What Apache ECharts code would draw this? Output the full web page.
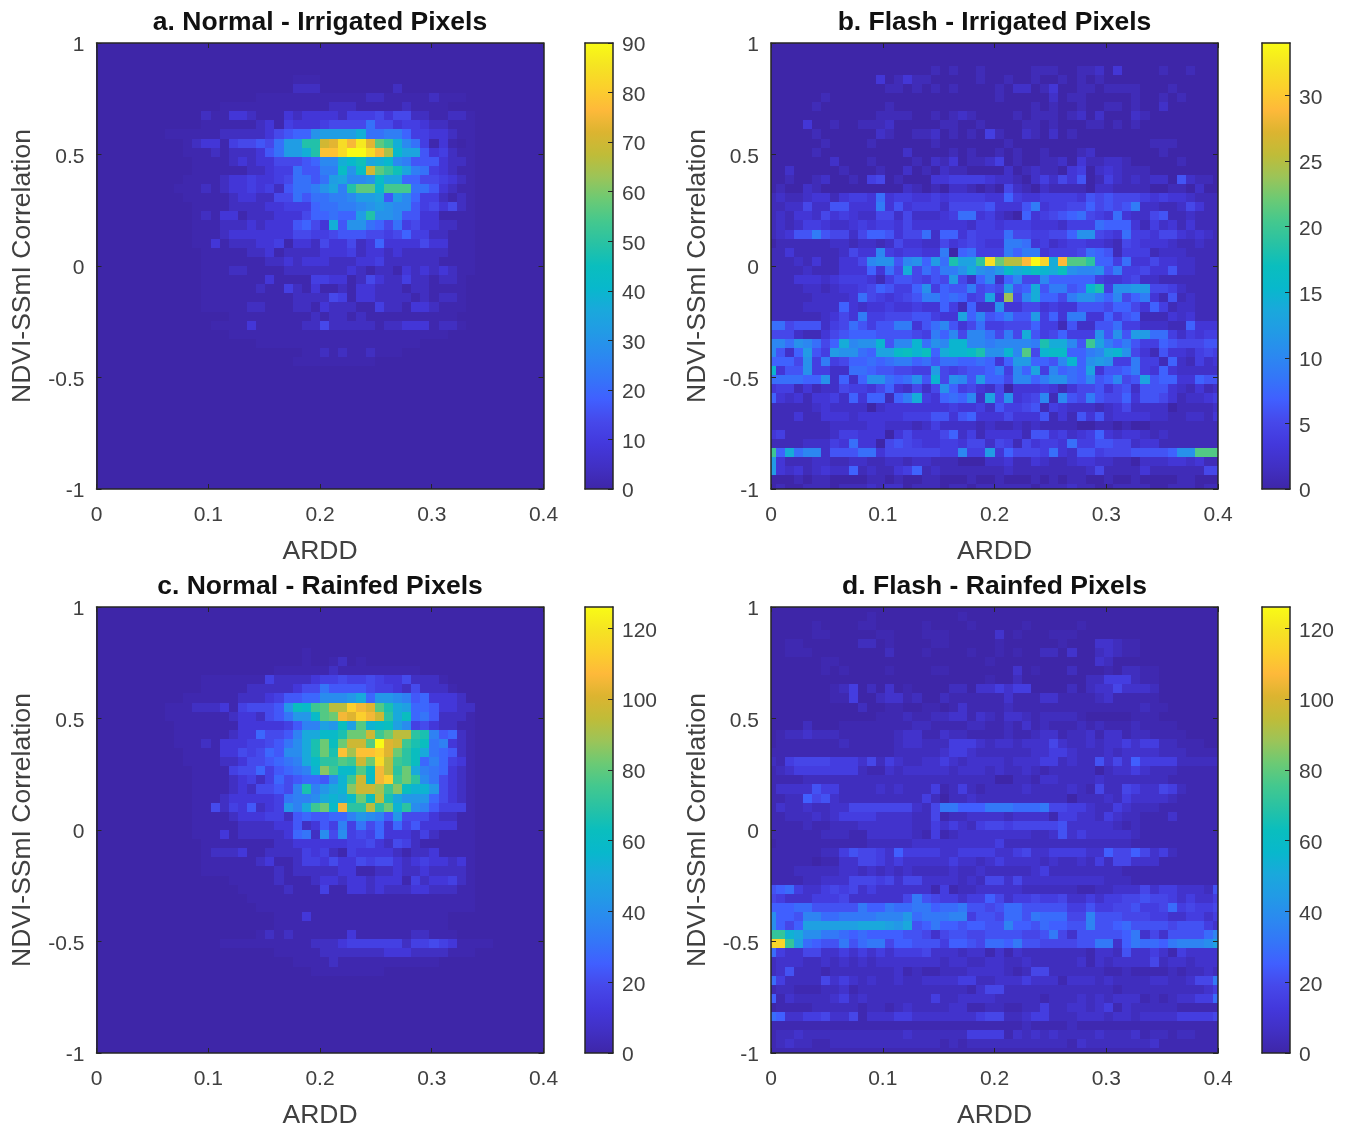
<!DOCTYPE html>
<html><head><meta charset="utf-8">
<script src="https://cdn.jsdelivr.net/npm/echarts@6/dist/echarts.min.js"></script>
<style>html,body{margin:0;padding:0;background:#fff}#c{width:1348px;height:1128px}</style>
</head><body><div id="c"></div>
<script>
const titles=["a. Normal - Irrigated Pixels","b. Flash - Irrigated Pixels","c. Normal - Rainfed Pixels","d. Flash - Rainfed Pixels"];
const xLabel="ARDD", yLabel="NDVI-SSmI Correlation";
const maxes=[90,34,126,126];
const barTicks=[10,5,20,20];
// each character is one cell, base-36 level; unit = counts per level, low* = counts of the faintest levels
const units=[2.7,1,3.9,3.6];
const lowA=[0,1,4], lowB=[0,1,2], lowC=[0,1.5,6], lowD=[0,2,5,8.5];
const rowsA=["","","","",
"0000000000000000000000111",
"0000000000000000000000222000000002",
"00000000000000000011111111111122111112111",
"000000000000001111111111112221111121111",
"000000000000211332111323333244453552211221",
"000000000000111111231433345555855344322111",
"000000001111112222235677bcccce889974433211",
"000000000012331455658cciiqrvswrljea8413101",
"00000000001112122236"+"8cceittvzzvsofdd6342"+"11",
"00000000000111123233"+"55567aaefhdefa96663221",
"00000000000111111223"+"4486699gbgqljhd9843211",
"00000000001111233433"+"458868cdaabgdd77554321",
"00000000011121233434"+"26889bd9illfkkk8863211",
"00000000001111123322"+"55868899accd6ca7442121",
"00000000000111122223"+"344478899abcbaa6453521",
"00000000000121331222"+"333577877cibba66331111",
"00000000000111222323"+"336753e6bb875845332211",
"00000000000111233333"+"3355445666554574422111",
"00000000000113122233"+"4133253352373333533111",
"00000000000011111223"+"1222233342332322222111",
"00000000000011111112"+"2323332223342222221111",
"00000000000011122111"+"1222222232122132323211",
"00000000000011111113"+"1111443312532242212210",
"00000000000011111121"+"1421311213322212211110",
"00000000000011111111"+"1122225413322221212210",
"00000000000011111221"+"1122132221142213321110",
"00000000000000011111"+"1111212212111111111100",
"00000000000001111311"+"1112252222212233312210",
"00000000000000011111"+"11111111111111111110",
"00000000000000000011111111111111111100",
"000000000000000000000001121211211100",
"0000000000000000000000111111111",
"","","","","","","","","","","","","",""];
const rowsB=["","","",
"000000000000000000101001000001110011203000010010",
"0000000000003013110000010010010010101",
"0000000000000110101010000102201300110111100010",
"0000001000000000000000000100000201100000100101",
"00000100000001000000000000000101001001101002",
"000000000000111100101210000101110120200021",
"00003001001112000001100100001101000110101",
"0000010000002100112010104100210201",
"000000100001000000100000001000000000000000111",
"00000100000000020000101001010010001200000001",
"0000000200010000102130112401001120311221000001",
"002000001000100201021100002012110340232111",
"00100120010450100033444432210242536014212122062110",
"010021000000000210102210105210211110221111001102",
"1211233134"+"4383443343"+"4444337433"+"4444365655"+"5434332111",
"1122522663"+"3393634442"+"5555633369"+"3445575656"+"9221125311",
"1213325343"+"2255252223"+"4883421073"+"4567854383"+"2256112111",
"1212443223"+"4344353333"+"3324434443"+"3324448777"+"3142313111",
"1236696552"+"5776355827"+"7354448554"+"4557bb5438"+"4435532321",
"0111111221"+"2212533225"+"3454339983"+"4234433215"+"4333211211",
"1131111125"+"33a4344339"+"0784449799"+"3444587614"+"4412221111",
"1112131133"+"5abb6ab7c8"+"iddjwmppty"+"vetllj7748"+"3353322111",
"1111211133"+"37385e5869"+"9bebacgefh"+"fehbaab694"+"4533622111",
"1113332344"+"4314665465"+"c527a27a55"+"a777774334"+"5221111111",
"1111221233"+"4576447b47"+"669565c67e"+"69967fi4bb"+"cc55421111",
"1111122223"+"8543456997"+"8745d3o5ae"+"7759bb97a5"+"7931612111",
"1111222273"+"2334334337"+"41722b3355"+"3433666577"+"5374122111",
"1111112353"+"9445556643"+"3d7a67966c"+"4739933746"+"7111323111",
"8856662458"+"646699368a"+"6358445557"+"4416226684"+"4222117333",
"5552113567"+"7766665497"+"a5aa8595e6"+"457444b6b6"+"cc88424344",
"aa8ba857ea"+"bbf6aaf8ba"+"ffaa9aaaa9"+"ieea6kd979"+"6447655566",
"a627c64cbb"+"87ddghfh7e"+"ffgibbfal5"+"fgg779aefb"+"5316332454",
"7775b49457"+"7878997868"+"8778737cc7"+"76af7bcb44"+"9441721423",
"f366b44228"+"87665544c5"+"4566794a7d"+"4a787d3667"+"9437322222",
"888877b272"+"7bb878b6f5"+"ba6c775aa7"+"9bb87a67a5"+"6d67733766",
"3441312254"+"435732525b"+"7453250333"+"4313556356"+"2666321312",
"7323133427"+"377179e437"+"87a2d5b345"+"a1a6596557"+"3665312234",
"1111123222"+"2023333333"+"4334264456"+"1432221235"+"2222011112",
"1113113332"+"3333344466"+"3673335333"+"6131636233"+"3322112213",
"1111111222"+"2332221242"+"2221211212"+"1111001101"+"0011111111",
"3411111244"+"3330353335"+"7241333316"+"6342347323"+"3212111111",
"1111222438"+"3305654334"+"4355254153"+"4438446655"+"2331111111",
"k7e8aa2666"+"8835555554"+"4a44c37555"+"4832664555"+"66667bblll",
"c311122112"+"2112212211"+"1000223113"+"2112332211"+"0222332311",
"c323123227"+"1211347121"+"1111112111"+"1111125111"+"1311111155",
"0001011000"+"0110100110"+"0010010001"+"0101100100"+"1000011000",
"0100111011"+"1212201110"+"1101111110"+"1112110011"+"1100111011"];
const rowsC=["","","","","",
"000000000000000000000001",
"000000000000000000000001001201",
"000000000000000000001111112111111111",
"0000000000001111111"+"42222344544"+"543352221",
"00000000000011111"+"22222355866665443252221",
"0000000000111111"+"222346677aaabd7bba9673332",
"00000000111222314555"+"6bgfjkootrqkhdc7763322",
"00000000111111123325"+"68bbfklrqtrpidg7862221",
"00000000011111113333"+"34699cbgckefgca4532211",
"00000000011111123375"+"569ddffhllpjlooih96721",
"00000000011121333445"+"68adhlglppkzqpjhg89321",
"00000000001111335457"+"6aadhlhsnsstqligd87621",
"00000000001111223556"+"789dfiikjpluojig797431",
"00000000000111145574"+"6789emjffkgroild987321",
"00000000000111123424"+"756776aejpfrtjlia85321",
"00000000000111123255"+"659h9bdemppnjmgeeb5321",
"00000000000111233333"+"4899adedflgohdbbb75321",
"00000000000115243623"+"4b9djlfriioileia964441",
"00000000000111123334"+"426766779ba96b55532211",
"00000000000111112222"+"3362364948573746333311",
"00000000000111312222"+"23782a5a45473332421111",
"00000000000011111111"+"2233333344532542111111",
"00000000000012223112"+"2224342143333212231111",
"00000000000011111123"+"1124435335455323433231",
"00000000000011111111"+"2122222331122322322221",
"00000000000000011111"+"2111233233233314233421",
"00000000000000001111"+"1211141133232223322211",
"00000000000000000111"+"1111111111111111111111",
"000000000000000000111111111111111111111111",
"000000000000000000001113111111111111111",
"000000000000000000001111111111111111111",
"0000000000000000001212111111311111122111",
"000000000000001111111111"+"22234444442445431111",
"000000000000000000001111122222223332222111",
"00000000000000000000001111211111111111",
"00000000000000000000000011111111",
"","","","","","","","",""];
const rowsD=["",
"00000000000100000000010000000000",
"0000010000110000010000100000100000100000000000",
"00000110000011000111000003010001110000000000000000",
"0011000000"+"2201000011"+"0000010000"+"0010003321"+"1000000000",
"0011100000"+"0002000100"+"0010010100"+"2203002321"+"1000000000",
"0000001100"+"0000000000"+"0000100000"+"0000003200"+"0000000000",
"0000001010"+"0001000011"+"0000000301"+"0002000102"+"2110000000",
"0000000000"+"0000000000"+"0000100200"+"0000022444"+"2110000000",
"0000000124"+"0203010000"+"2203343440"+"0002023353"+"3320000000",
"0000000114"+"0023312002"+"1111113111"+"3311112311"+"1110000000",
"0000000000"+"2001100110"+"1311112111"+"1111111111"+"1211000000",
"0000000000"+"0011121122"+"3313213321"+"2222100000"+"1110000000",
"0000200011"+"1111112211"+"1122112131"+"2111212111"+"2111100000",
"0122322211"+"1111233113"+"2211112112"+"3312231331"+"2211110000",
"0111111121"+"1111233222"+"4443233233"+"3532232334"+"3442211100",
"1111111111"+"1111222223"+"4432222223"+"3443222323"+"3332221111",
"2145555444"+"3524322334"+"3233332333"+"4423226353"+"7444422222",
"1234444444"+"2113233333"+"2333232232"+"1222220233"+"4322211111",
"1111222222"+"2222222222"+"2222200221"+"3322223222"+"2222111111",
"1333364422"+"2232322241"+"2421222232"+"2223215225"+"4335421111",
"1122756322"+"2222222420"+"2232222222"+"2220222324"+"3333211111",
"1322322335"+"5555553259"+"9777999888"+"9554432243"+"2221111111",
"1122232344"+"4433332251"+"2233332333"+"3144332432"+"2111311111",
"1111211222"+"3333332243"+"4324554555"+"5563333321"+"2111111111",
"1111112221"+"1333332141"+"2333333332"+"2363433333"+"2111111111",
"0111111111"+"1222223333"+"3333342222"+"2222222222"+"1111111111",
"1111112246"+"5543744443"+"3444433453"+"3444433755"+"7534211111",
"1111101133"+"5543433333"+"4332343333"+"2322324255"+"3331111111",
"1112222233"+"2323232222"+"3223222223"+"4222222221"+"1111111111",
"1111223335"+"5545355333"+"3232553533"+"3333333222"+"1111111111",
"6784334545"+"3433333314"+"1223333322"+"2222112233"+"3534433326",
"5433344453"+"3333359654"+"4344753445"+"4453343445"+"5655434334",
"7778866666"+"9779889978"+"8966568866"+"6664464455"+"6445845445",
"b776aa8899"+"99aaac8999"+"aa46658869"+"88855a6665"+"5544334434",
"b757dddddd"+"eeedce6797"+"767766a776"+"87766a6678"+"6666566643",
"kkfebb9987"+"8777766535"+"6655666655"+"6953666667"+"935366668a",
"wwkd876696"+"8995776664"+"7765887966"+"5555669937"+"98879aaabd",
"8433553343"+"4343444533"+"3233131322"+"2222213326"+"3343143333",
"2333223232"+"3233333332"+"3322332232"+"2222313233"+"3352332333",
"2362221222"+"2222312112"+"2233332125"+"5222222112"+"1111212232",
"8422225343"+"2322322333"+"3442233343"+"3313332322"+"2233223559",
"1221112231"+"2222222222"+"2213552222"+"2222222212"+"2222222234",
"7132222342"+"3222222242"+"2333322222"+"1222323233"+"3121233448",
"0111122222"+"1221232222"+"3311221122"+"4223323413"+"2222211111",
"8733445335"+"1333443333"+"3334552234"+"4222333233"+"2333344445",
"1111111111"+"1111111111"+"1111111121"+"1112111111"+"1111111111",
"1223222222"+"2222232222"+"2244441323"+"2322223222"+"3122122111",
"1232211222"+"2222222221"+"2122222222"+"2221322222"+"2231111111",
"1111111111"+"1111111111"+"1111111111"+"1111111111"+"1111111111"];
const panelRows=[rowsA,rowsB,rowsC,rowsD];
const panelLow=[lowA,lowB,lowC,lowD];
const parula=["#3E26A8","#4130C4","#4338DC","#4648EA","#405FFF","#3476F8","#2B89F0","#229AE6","#1AA8DC","#08B8CC","#0ABEBE","#28C2A4","#44C88E","#6CCA74","#9CC458","#C0BC38","#DCB430","#FEB93A","#FBD02C","#F5E422","#F9FB15"];

const N=50, dx=0.4/(N-1), dy=2/(N-1);
const frame="#262626", txt="#404040", font="Liberation Sans";
const lefts=[96.5,771,96.5,771], tops=[43,43,607,607], barLefts=[585,1262,585,1262];
const W=447,H=446,BW=28;

function cells(rows,unit,low){
  const out=[];
  for(let r=0;r<N;r++){
    const s=(rows[r]||"").padEnd(N,"0");
    for(let c=0;c<N;c++){
      const lv=parseInt(s[c],36);
      out.push([c*dx,1-r*dy,lv<low.length?low[lv]:lv*unit]);
    }
  }
  return out;
}
function renderCell(params,api){
  const x=api.value(0),y=api.value(1);
  const a=api.coord([x-dx/2,y+dy/2]),b=api.coord([x+dx/2,y-dy/2]);
  const l=Math.round(a[0]),t=Math.round(a[1]),rr=Math.round(b[0]),bb=Math.round(b[1]);
  return {type:'rect',shape:{x:l,y:t,width:rr-l,height:bb-t},style:{fill:api.visual('color')}};
}
const line={show:true,onZero:false,lineStyle:{color:frame,width:1.5}};
const lab={color:txt,fontFamily:font,fontSize:21};
const lowered={formatter:'{v|{value}}',rich:{v:{...lab,padding:[5,0,0,0]}}};
const nameSt={color:txt,fontFamily:font,fontSize:26.5};
const grid=[],xAxis=[],yAxis=[],series=[],visualMap=[],title=[];
titles.forEach((t,i)=>{
  const g=i*2, gb=i*2+1;
  grid.push({left:lefts[i],top:tops[i],width:W,height:H,outerBoundsMode:'none',containLabel:false});
  grid.push({left:barLefts[i],top:tops[i],width:BW,height:H,outerBoundsMode:'none',containLabel:false});
  title.push({text:t,padding:0,left:lefts[i]+W/2,top:tops[i]-34,textAlign:'center',textStyle:{color:"#111",fontFamily:font,fontSize:26.5,fontWeight:'bold'}});
  const ax={type:'value',gridIndex:g,z:6,splitLine:{show:false},axisLine:line};
  const tk={show:true,inside:true,length:5,lineStyle:{color:frame,width:1}};
  xAxis.push({...ax,position:'bottom',min:0,max:0.4,interval:0.1,axisTick:tk,axisLabel:{...lab,margin:16},name:xLabel,nameLocation:'middle',nameGap:49,nameTextStyle:nameSt});
  const xi0=xAxis.length-1;
  xAxis.push({...ax,position:'top',min:0,max:0.4,interval:0.1,axisTick:tk,axisLabel:{show:false}});
  yAxis.push({...ax,position:'left',min:-1,max:1,interval:0.5,axisTick:tk,axisLabel:{...lab,...lowered,margin:12},name:yLabel,nameLocation:'middle',nameGap:60,nameTextStyle:nameSt});
  const yi0=yAxis.length-1;
  yAxis.push({...ax,position:'right',min:-1,max:1,interval:0.5,axisTick:tk,axisLabel:{show:false}});
  series.push({type:'custom',xAxisIndex:xi0,yAxisIndex:yi0,clip:true,animation:false,silent:true,
    renderItem:renderCell,encode:{x:0,y:1},data:cells(panelRows[i],units[i],panelLow[i]),z:2});
  visualMap.push({type:'continuous',show:false,seriesIndex:series.length-1,dimension:2,min:0,max:maxes[i],inRange:{color:parula}});
  // colour bar
  const catAx={type:'category',gridIndex:gb,data:[''],z:6,axisLine:line,axisTick:{show:false},axisLabel:{show:false},splitLine:{show:false}};
  xAxis.push({...catAx,position:'bottom'});
  const xb=xAxis.length-1;
  xAxis.push({...catAx,position:'top'});
  yAxis.push({type:'value',gridIndex:gb,z:6,position:'right',min:0,max:maxes[i],interval:barTicks[i],splitLine:{show:false},axisLine:line,
    axisTick:{show:true,inside:true,length:5,lineStyle:{color:frame,width:1}},
    axisLabel:{...lab,...lowered,margin:9,showMaxLabel:maxes[i]%barTicks[i]===0}});
  const yb=yAxis.length-1;
  yAxis.push({type:'value',gridIndex:gb,z:6,position:'left',min:0,max:maxes[i],interval:barTicks[i],splitLine:{show:false},axisLine:line,axisTick:{show:false},axisLabel:{show:false}});
  series.push({type:'bar',xAxisIndex:xb,yAxisIndex:yb,barWidth:'100%',animation:false,silent:true,data:[maxes[i]],z:2,
    itemStyle:{color:{type:'linear',x:0,y:1,x2:0,y2:0,colorStops:parula.map((c,k)=>({offset:k/20,color:c}))}}});
});
const chart=echarts.init(document.getElementById('c'),null,{renderer:'canvas'});
chart.setOption({animation:false,backgroundColor:'#fff',title,grid,xAxis,yAxis,series,visualMap,tooltip:{show:false}});
</script></body></html>
